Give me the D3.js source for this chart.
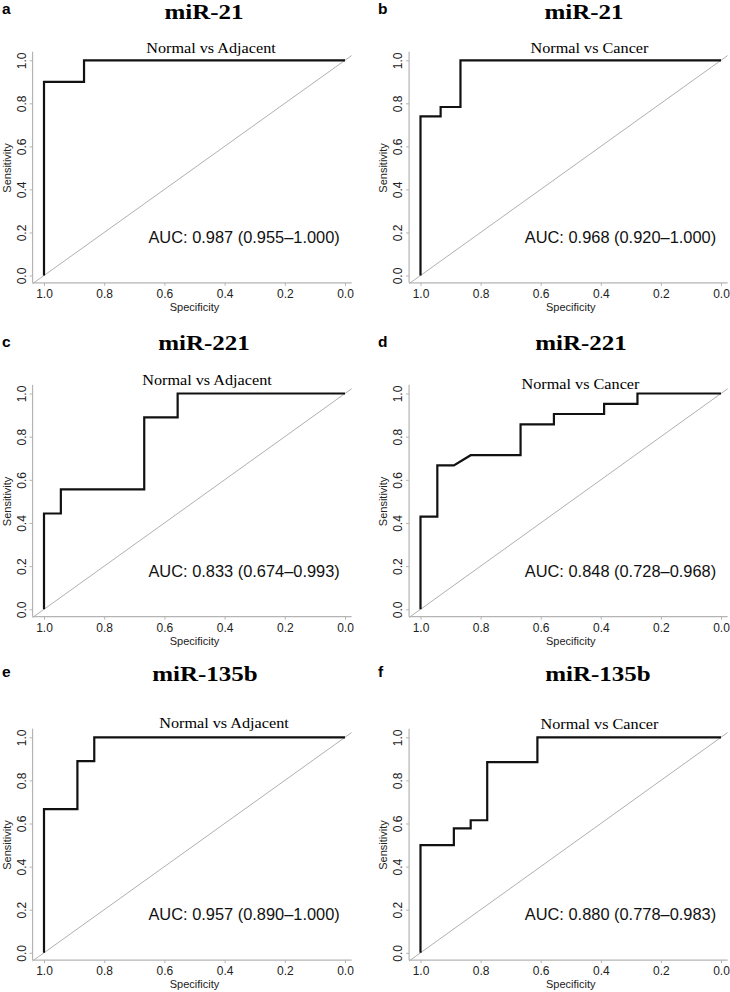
<!DOCTYPE html>
<html>
<head>
<meta charset="utf-8">
<script src="https://cdn.jsdelivr.net/npm/d3@7"></script>
<style>
  body { margin: 0; background: #fff; }
  svg { display: block; }
</style>
</head>
<body>
<svg id="vis" width="730" height="992"></svg>
<script>
// panel text
const letters = ["a", "b", "c", "d", "e", "f"];
const mirnas = ["miR-21", "miR-21", "miR-221", "miR-221", "miR-135b", "miR-135b"];
const comparisons = ["Normal vs Adjacent", "Normal vs Cancer", "Normal vs Adjacent",
                     "Normal vs Cancer", "Normal vs Adjacent", "Normal vs Cancer"];
const aucLabels = ["AUC: 0.987 (0.955\u20131.000)", "AUC: 0.968 (0.920\u20131.000)",
                   "AUC: 0.833 (0.674\u20130.993)", "AUC: 0.848 (0.728\u20130.968)",
                   "AUC: 0.957 (0.890\u20131.000)", "AUC: 0.880 (0.778\u20130.983)"];

// ROC curves (specificity, sensitivity)
const specA = [1, 1, 0.867, 0.867, 0];
const sensA = [0, 0.9, 0.9, 1, 1];
const specB = [1, 1, 0.933, 0.933, 0.867, 0.867, 0];
const sensB = [0, 0.739, 0.739, 0.783, 0.783, 1, 1];
const specC = [1, 1, 0.944, 0.944, 0.667, 0.667, 0.556, 0.556, 0];
const sensC = [0, 0.444, 0.444, 0.556, 0.556, 0.889, 0.889, 1, 1];
const specD = [1, 1, 0.944, 0.944, 0.889, 0.833, 0.667, 0.667, 0.556, 0.556, 0.389, 0.389, 0.278, 0.278, 0];
const sensD = [0, 0.429, 0.429, 0.667, 0.667, 0.714, 0.714, 0.857, 0.857, 0.905, 0.905, 0.952, 0.952, 1, 1];
const specE = [1, 1, 0.889, 0.889, 0.833, 0.833, 0];
const sensE = [0, 0.667, 0.667, 0.889, 0.889, 1, 1];
const specF = [1, 1, 0.889, 0.889, 0.833, 0.833, 0.778, 0.778, 0.611, 0.611, 0];
const sensF = [0, 0.5, 0.5, 0.577, 0.577, 0.615, 0.615, 0.885, 0.885, 1, 1];

const xTicks = [1.0, 0.8, 0.6, 0.4, 0.2, 0.0];
const yTicks = [0.0, 0.2, 0.4, 0.6, 0.8, 1.0];

const specs = [specA, specB, specC, specD, specE, specF];
const senss = [sensA, sensB, sensC, sensD, sensE, sensF];

// layout (pixels)
const colX1 = [44, 420.5], colX0 = [345, 721];
const rowY1 = [60.3, 393.5, 737.3], rowY0 = [275.5, 609.3, 952.8];
const letterX = [2, 378], letterY = [13.5, 347, 677];
const titleX = [204, 584, 204, 581, 205, 598], titleY = [18.7, 350, 680.7];
const subX = [211, 589.5, 207, 580.5, 224, 599.5], subY = [53.3, 53.3, 385, 388.5, 728.3, 729];

const sans = "'Liberation Sans', Arial, sans-serif";
const serif = "'Liberation Serif', 'Times New Roman', serif";
const frameCol = "#b4b4b4";

const svg = d3.select("#vis");

d3.range(6).forEach(i => {
    const col = i % 2, row = Math.floor(i / 2);
    const x = d3.scaleLinear().domain([1, 0]).range([colX1[col], colX0[col]]);
    const y = d3.scaleLinear().domain([0, 1]).range([rowY0[row], rowY1[row]]);
    const g = svg.append("g");

    const xl = 1.038, xr = -0.022, yb = -0.034, yt = 1.04;

    // panel letter + titles
    g.append("text").attr("x", letterX[col]).attr("y", letterY[row])
        .attr("font-family", sans).attr("font-weight", "bold").attr("font-size", 15.5)
        .text(letters[i]);
    g.append("text")
        .attr("transform", `translate(${titleX[i]},${titleY[row]}) scale(1.25,1)`)
        .attr("text-anchor", "middle")
        .attr("font-family", serif).attr("font-weight", "bold").attr("font-size", 20)
        .text(mirnas[i]);
    g.append("text")
        .attr("transform", `translate(${subX[i]},${subY[i]}) scale(1.08,1)`)
        .attr("text-anchor", "middle")
        .attr("font-family", serif).attr("font-size", 15)
        .text(comparisons[i]);

    // frame lines
    g.append("line").attr("x1", x(xl)).attr("x2", x(xr)).attr("y1", y(yb)).attr("y2", y(yb))
        .attr("stroke", frameCol).attr("stroke-width", 1.2);
    g.append("line").attr("x1", x(xl)).attr("x2", x(xl)).attr("y1", y(yb)).attr("y2", y(yt))
        .attr("stroke", frameCol).attr("stroke-width", 1.2);

    // axes
    const xAxis = d3.axisBottom(x).tickValues(xTicks).tickFormat(d3.format(".1f"))
        .tickSize(3).tickPadding(3.5);
    g.append("g").attr("transform", `translate(0,${y(yb)})`).call(xAxis)
        .call(a => a.select(".domain").remove())
        .call(a => a.selectAll("line").attr("stroke", frameCol))
        .call(a => a.selectAll("text").attr("font-family", sans).attr("font-size", 12).attr("fill", "#222"));

    const yAxis = d3.axisLeft(y).tickValues(yTicks).tickFormat(d3.format(".1f")).tickSize(3);
    g.append("g").attr("transform", `translate(${x(xl)},0)`).call(yAxis)
        .call(a => a.select(".domain").remove())
        .call(a => a.selectAll("line").attr("stroke", frameCol))
        .call(a => a.selectAll("text")
            .attr("transform", "rotate(-90)")
            .attr("x", 0).attr("y", -7).attr("dy", 0)
            .attr("text-anchor", "middle")
            .attr("font-family", sans).attr("font-size", 12).attr("fill", "#222"));

    // axis titles
    g.append("text").attr("x", (x(0) + x(1)) / 2).attr("y", y(yb) + 28)
        .attr("text-anchor", "middle").attr("font-family", sans).attr("font-size", 11).attr("fill", "#222")
        .text("Specificity");
    g.append("text")
        .attr("transform", `translate(${x(xl) - 22},${(y(0) + y(1)) / 2}) rotate(-90)`)
        .attr("text-anchor", "middle").attr("font-family", sans).attr("font-size", 11).attr("fill", "#222")
        .text("Sensitivity");

    // chance diagonal
    g.append("line").attr("x1", x(xl)).attr("y1", y(1 - xl)).attr("x2", x(xr)).attr("y2", y(1 - xr))
        .attr("stroke", "#b0b0b0").attr("stroke-width", 1);

    // ROC curve
    const pts = specs[i].map((s, k) => [s, senss[i][k]]);
    g.append("path").datum(pts)
        .attr("d", d3.line().x(d => x(d[0])).y(d => y(d[1])))
        .attr("fill", "none").attr("stroke", "#111").attr("stroke-width", 2.2);

    // AUC
    g.append("text").attr("x", x(0.653)).attr("y", y(0.15))
        .attr("font-family", sans).attr("font-size", 16.4).attr("fill", "#111")
        .text(aucLabels[i]);
});
</script>
</body>
</html>
